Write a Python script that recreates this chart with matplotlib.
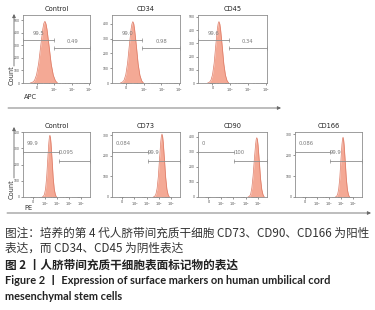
import matplotlib
matplotlib.use('Agg')
import matplotlib.pyplot as plt

plt.rcParams['font.family'] = ['DejaVu Sans']

W, H = 375, 310

# ---- data ----
top_titles = ['Control', 'CD34', 'CD45']
bot_titles = ['Control', 'CD73', 'CD90', 'CD166']

top_gate_left = ['99.5', '99.0', '99.6']
top_gate_right = ['0.49', '0.98', '0.34']
bot_gate_left = ['99.9', '0.084', '0', '0.086']
bot_gate_right = ['0.095', '99.9', '100', '99.9']

# gate boundary, in decades on the axis
top_split = [1.0, 0.9, 0.92]
bot_split = [2.15, 2.1, 2.07, 2.07]

top_xticklabels = ['0', '$10^3$', '$10^4$', '$10^5$']
bot_xticklabels = ['0', '$10^3$', '$10^4$', '$10^5$', '$10^6$']

top_ymax = [540, 460, 515]
top_yticks = [[0, 100, 200, 300, 400, 500], [0, 100, 200, 300, 400], [0, 100, 200, 300, 400, 500]]
bot_ymax = [400, 315, 433, 310]
bot_yticks = [[0, 100, 200, 300, 400], [0, 100, 200, 300], [0, 100, 200, 300, 400], [0, 100, 200, 300]]

# histograms (axis position, count)
ctrl1_x = [-0.38, -0.26, -0.14, -0.02, 0.10, 0.22, 0.34, 0.40, 0.46, 0.52, 0.58, 0.70, 0.82, 0.94, 1.06, 1.18]
ctrl1_y = [0, 5, 20, 66, 157, 297, 431, 475, 490, 470, 425, 290, 150, 62, 18, 0]
cd34_x = [-0.32, -0.22, -0.12, -0.02, 0.08, 0.18, 0.28, 0.33, 0.38, 0.43, 0.48, 0.58, 0.68, 0.78, 0.88, 0.98]
cd34_y = [0, 5, 18, 56, 133, 253, 365, 400, 415, 402, 362, 250, 128, 52, 15, 0]
cd45_x = [-0.26, -0.17, -0.08, 0.01, 0.10, 0.19, 0.28, 0.325, 0.37, 0.415, 0.46, 0.55, 0.64, 0.73, 0.82, 0.91]
cd45_y = [0, 5, 20, 63, 149, 284, 409, 450, 465, 448, 405, 280, 145, 60, 18, 0]

ctrl2_x = [0.77, 0.86, 0.95, 1.04, 1.13, 1.22, 1.31, 1.355, 1.40, 1.445, 1.49, 1.58, 1.67, 1.76, 1.85, 1.94]
ctrl2_y = [0, 4, 17, 51, 122, 232, 334, 368, 380, 366, 330, 228, 118, 48, 15, 0]
cd73_x = [2.55, 2.65, 2.75, 2.85, 2.95, 3.05, 3.15, 3.20, 3.25, 3.30, 3.35, 3.45, 3.55, 3.65, 3.75, 3.85]
cd73_y = [0, 3, 13, 41, 98, 186, 268, 295, 305, 294, 266, 183, 95, 38, 11, 0]
cd90_x = [3.2, 3.3, 3.4, 3.5, 3.6, 3.7, 3.8, 3.85, 3.9, 3.95, 4.0, 4.1, 4.2, 4.3, 4.4, 4.5]
cd90_y = [0, 4, 17, 60, 140, 250, 348, 383, 395, 383, 345, 238, 122, 50, 15, 0]
cd166_x = [2.52, 2.61, 2.70, 2.79, 2.88, 2.97, 3.06, 3.105, 3.15, 3.195, 3.24, 3.33, 3.42, 3.51, 3.60, 3.69]
cd166_y = [0, 3, 12, 38, 91, 174, 251, 276, 285, 274, 248, 170, 88, 35, 10, 0]

top_hist = [(ctrl1_x, ctrl1_y), (cd34_x, cd34_y), (cd45_x, cd45_y)]
bot_hist = [(ctrl2_x, ctrl2_y), (cd73_x, cd73_y), (cd90_x, cd90_y), (cd166_x, cd166_y)]

FILL = '#f4a995'
EDGE = '#dd7a65'
GRAY = '#8e8e8e'
TXT = '#7a7a7a'

fig = plt.figure(figsize=(W / 100, H / 100), dpi=100)


def px_axes(x0, y0, x1, y1):
    return fig.add_axes([x0 / W, 1 - y1 / H, (x1 - x0) / W, (y1 - y0) / H])


def minor_positions(n_dec):
    import math
    pos = [-0.15, -0.1, -0.05, 0.05, 0.1, 0.15]
    for k in range(n_dec):
        for m in range(2, 10):
            pos.append(k + math.log10(m))
    return pos


def draw_panel(ax, hx, hy, xlim, ymax, yticks, xticklabels, split, title,
               ltxt, rtxt, gl, gr, top_row):
    ax.fill_between(hx, hy, 0, color=FILL, lw=0)
    ax.plot(hx, hy, color=EDGE, lw=0.5)
    ax.set_xlim(*xlim)
    ax.set_ylim(0, ymax)
    ax.set_xticks(range(len(xticklabels)))
    ax.set_xticklabels(xticklabels, fontsize=2.4, color='#444')
    ax.set_xticks(minor_positions(len(xticklabels) - 1), minor=True)
    ax.set_yticks(yticks)
    ax.set_yticklabels([str(v) for v in yticks], fontsize=2.2, color='#444')
    ax.tick_params(which='major', length=1.5, width=0.4, pad=0.8, colors='#444')
    ax.tick_params(which='minor', length=0.8, width=0.3, colors='#444')
    for s in ax.spines.values():
        s.set_color(GRAY)
        s.set_linewidth(0.6)
    ax.set_title(title, fontsize=4.8, color='#222', pad=3)

    tr = ax.get_xaxis_transform()
    ax.plot([xlim[0], split], [gl, gl], transform=tr, color=GRAY, lw=0.6,
            marker='|', ms=2.5, mew=0.5, clip_on=False)
    ax.plot([split, xlim[1]], [gr, gr], transform=tr, color=GRAY, lw=0.6,
            marker='|', ms=2.5, mew=0.5, clip_on=False)
    span = xlim[1] - xlim[0]
    if top_row:
        ax.text((xlim[0] + split) / 2, gl + 0.1, ltxt, transform=tr,
                fontsize=3.8, color=TXT, ha='center', va='center')
        ax.text((split + xlim[1]) / 2, gr + 0.1, rtxt, transform=tr,
                fontsize=3.8, color=TXT, ha='center', va='center')
    else:
        ax.text(xlim[0] + 0.05 * span, gl + 0.14, ltxt, transform=tr,
                fontsize=3.8, color=TXT, ha='left', va='center')
        ax.text(split, gr + 0.13, rtxt, transform=tr,
                fontsize=3.8, color=TXT, ha='left', va='center')


top_boxes = [(23, 90), (112, 180), (198, 267)]
for i, (x0, x1) in enumerate(top_boxes):
    ax = px_axes(x0, 15, x1, 83)
    draw_panel(ax, top_hist[i][0], top_hist[i][1], (-0.8, 3.05), top_ymax[i],
               top_yticks[i], top_xticklabels, top_split[i], top_titles[i],
               top_gate_left[i], top_gate_right[i], 0.63, 0.51, True)

bot_boxes = [(23, 90), (112, 180), (198, 267), (295, 362)]
for i, (x0, x1) in enumerate(bot_boxes):
    ax = px_axes(x0, 132, x1, 197)
    draw_panel(ax, bot_hist[i][0], bot_hist[i][1], (-0.83, 4.72), bot_ymax[i],
               bot_yticks[i], bot_xticklabels, bot_split[i], bot_titles[i],
               bot_gate_left[i], bot_gate_right[i], 0.69, 0.55, False)

# overlay for arrows, axis names and caption
ov = fig.add_axes([0, 0, 1, 1])
ov.set_xlim(0, W)
ov.set_ylim(H, 0)
ov.axis('off')

arrow = dict(arrowstyle='-|>', color='#666', lw=0.6, mutation_scale=5,
             shrinkA=0, shrinkB=0)
ov.annotate('', xy=(14, 14), xytext=(14, 66), arrowprops=arrow)
ov.annotate('', xy=(14, 127), xytext=(14, 178), arrowprops=arrow)
ov.annotate('', xy=(281, 108), xytext=(8, 108), arrowprops=arrow)
ov.annotate('', xy=(371, 213), xytext=(7, 213), arrowprops=arrow)
ov.text(12, 75, 'Count', rotation=90, fontsize=4.8, color='#333', ha='center', va='center')
ov.text(12, 189, 'Count', rotation=90, fontsize=4.8, color='#333', ha='center', va='center')
ov.text(24, 97, 'APC', fontsize=4.8, color='#333', ha='left', va='center')
ov.text(24, 208, 'PE', fontsize=4.8, color='#333', ha='left', va='center')

cjk = ['Noto Sans CJK SC', 'DejaVu Sans']
ov.text(5, 233, '图注：培养的第 4 代人脐带间充质干细胞 CD73、CD90、CD166 为阳性',
        family=cjk, fontsize=8.4, color='#333', ha='left', va='center')
ov.text(5, 248, '表达，而 CD34、CD45 为阴性表达',
        family=cjk, fontsize=8.4, color='#333', ha='left', va='center')
ov.text(5, 265, '图 2 丨人脐带间充质干细胞表面标记物的表达',
        family=cjk, fontsize=8.4, color='#222', ha='left', va='center', weight='bold')
ov.text(5, 281, 'Figure 2 丨 Expression of surface markers on human umbilical cord',
        family=['Lato', 'Noto Sans CJK SC'], fontsize=7.9, color='#222',
        ha='left', va='center', weight='bold')
ov.text(5, 297, 'mesenchymal stem cells',
        family=['Lato', 'Noto Sans CJK SC'], fontsize=7.9, color='#222',
        ha='left', va='center', weight='bold')

fig.savefig('out.png', dpi=100)
